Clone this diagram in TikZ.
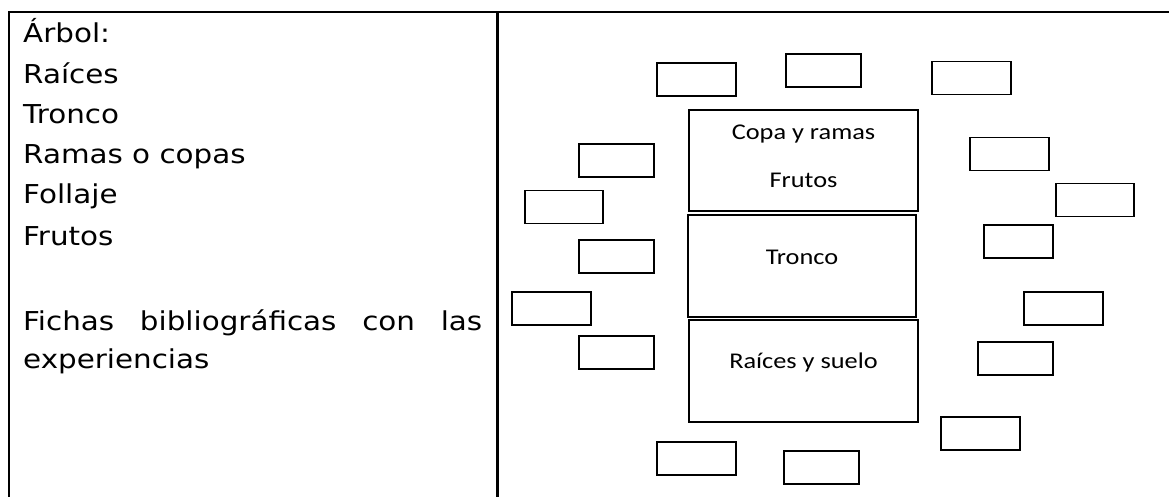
\documentclass[tikz,border=0pt]{standalone}
\usepackage{fontspec}
\setmainfont{DejaVu Sans}[FakeStretch=1.13]
\newfontfamily\boxfont{Carlito}[FakeStretch=1.17]

\tikzset{
  listtext/.style={anchor=base west, inner sep=0pt, font=\fontsize{26}{40}\selectfont},
  smallbox/.style={draw, line width=1.6pt, minimum height=33pt, inner sep=0pt},
  partbox/.style={draw, line width=1.6pt, minimum width=229pt, minimum height=101pt, inner sep=0pt},
  boxlabel/.style={anchor=base, inner sep=0pt, font=\boxfont\fontsize{22.5}{27}\selectfont}
}

\begin{document}
\begin{tikzpicture}[x=1pt,y=-1pt]
\useasboundingbox (0,0) rectangle (1169,497);

% table frame
\draw[line width=2.3pt] (9,497) -- (9,12) -- (1169,12);
\draw[line width=2.3pt] (497.5,12) -- (497.5,497);

% left column
\node[listtext] (arbol) at (23,42.7) {Árbol:};
\node[listtext] (raices) at (23,83.3) {Raíces};
\node[listtext] (tronco) at (23,123.5) {Tronco};
\node[listtext] (ramas) at (23,163.5) {Ramas o copas};
\node[listtext] (follaje) at (23,204) {Follaje};
\node[listtext] (frutos) at (23,245) {Frutos};
\node[listtext] (fichas) at (23,330) {\makebox[459pt][s]{Fichas bibliográficas con las}};
\node[listtext] (exper) at (23,368.5) {experiencias};

% tree parts
\node[partbox] (copa) at (803.5,160.5) {};
\node[partbox, minimum width=228pt, minimum height=102pt] (tronco box) at (802,266) {};
\node[partbox, minimum height=102pt] (suelo) at (803.5,371) {};
\node[boxlabel] (copa-a) at (803.5,140) {Copa y ramas};
\node[boxlabel] (copa-b) at (803.5,188) {Frutos};
\node[boxlabel] (tronco-a) at (802,264) {Tronco};
\node[boxlabel] (suelo-a) at (803.5,368) {Raíces y suelo};

% empty cards around the tree
\foreach \n/\x/\y/\w in {t1/696.5/79.5/79, t2/823.5/70.5/75, t3/971.5/78/79,
    l1/616.5/160.5/75, l2/564/207/78, l3/616.5/256.5/75, l4/551.5/308.5/79, l5/616.5/352.5/75,
    r1/1009.5/154/79, r2/1095/200/78, r3/1018.5/241.5/69, r4/1063.5/308.5/79,
    r5/1015.5/358.5/75, r6/980.5/433.5/79,
    b1/696.5/458.5/79, b2/821.5/467.5/75}
  \node[smallbox, minimum width=\w pt] (\n) at (\x,\y) {};
\end{tikzpicture}
\end{document}
